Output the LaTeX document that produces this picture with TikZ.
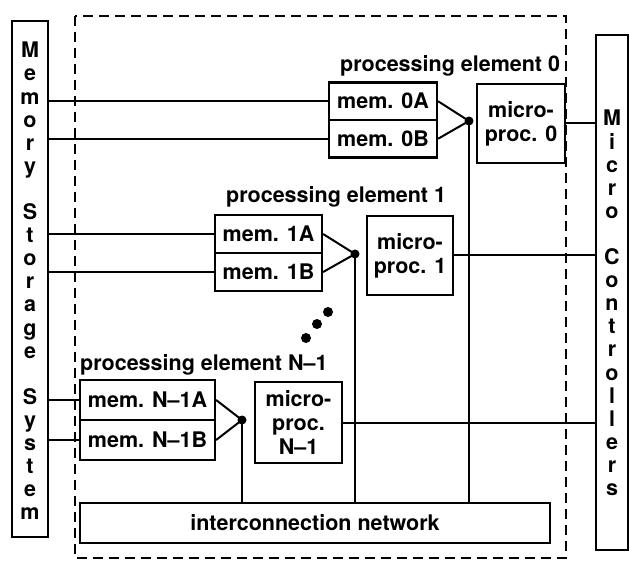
\documentclass[tikz,border=0pt]{standalone}
\usepackage{fontspec}
\setmainfont{TeX Gyre Heros}
\begin{document}
\begin{tikzpicture}[x=1pt,y=-1pt,
  every node/.style={font=\fontsize{21.5}{24}\selectfont\bfseries},
  box/.style={draw, line width=2.2pt, inner sep=0pt, align=center},
  wire/.style={line width=2pt},
  junction/.style={circle, fill, inner sep=0pt, minimum size=9pt},
  dot/.style={circle, fill, inner sep=0pt, minimum size=10pt},
  plabel/.style={anchor=base west, inner sep=0pt},
  vtext/.style={align=center, inner sep=0pt, font=\fontsize{21.5}{23.1}\selectfont\bfseries}]
\useasboundingbox (0,0) rectangle (629,561);
% dashed enclosure
\draw[line width=2.3pt, dash pattern=on 10pt off 6pt] (75,16) rectangle (566,558);
% side boxes
\node[box, minimum width=36pt, minimum height=516pt] (mss) at (30,279) {};
\node[vtext] (msst) at (30,281) {M\\e\\m\\o\\r\\y\\[23.1pt]S\\t\\o\\r\\a\\g\\e\\[23.1pt]S\\y\\s\\t\\e\\m};
\node[box, minimum width=32pt, minimum height=515pt] (mc) at (612,292.5) {};
\node[vtext] (mct) at (612,303) {M\\i\\c\\r\\o\\[23.1pt]C\\o\\n\\t\\r\\o\\l\\l\\e\\r\\s};
% PE 0
\node[plabel] (pl0) at (340,72) {processing element 0};
\node[box, minimum width=108pt, minimum height=37.5pt] (m0a) at (383,101.25) {mem. 0A};
\node[box, minimum width=108pt, minimum height=37.5pt] (m0b) at (383,138.75) {mem. 0B};
\node[box, minimum width=88pt, minimum height=79pt] (mp0) at (521,123.5) {micro-\\proc. 0};
\node[junction] (d0) at (469,121) {};
% PE 1
\node[plabel] (pl1) at (226,203) {processing element 1};
\node[box, minimum width=107pt, minimum height=38pt] (m1a) at (268.5,234) {mem. 1A};
\node[box, minimum width=107pt, minimum height=38pt] (m1b) at (268.5,272) {mem. 1B};
\node[box, minimum width=86pt, minimum height=79pt] (mp1) at (410,255.5) {micro-\\proc. 1};
\node[junction] (d1) at (355,254) {};
% ellipsis dots
\node[dot] (e1) at (328,312) {};
\node[dot] (e2) at (317,324) {};
\node[dot] (e3) at (306,338) {};
% PE N-1
\node[plabel] (pln) at (80,370) {processing element N–1};
\node[box, minimum width=135pt, minimum height=40pt] (mna) at (147.5,400) {mem. N–1A};
\node[box, minimum width=135pt, minimum height=40pt] (mnb) at (147.5,440) {mem. N–1B};
\node[box, minimum width=87pt, minimum height=81pt] (mpn) at (298.5,422.5) {micro-\\proc.\\N–1};
\node[junction] (dn) at (242,420) {};
% network
\node[box, minimum width=470pt, minimum height=40pt] (net) at (315,523) {interconnection network};
% wires from memory storage
\foreach \m in {m0a,m0b,m1a,m1b,mna,mnb}
  \draw[wire] (mss.east |- \m.west) -- (\m.west);
% triangles
\foreach \a/\b/\d in {m0a/m0b/d0, m1a/m1b/d1, mna/mnb/dn}{
  \draw[wire] (\a.east) -- (\d.center) -- (\b.east);
}
% verticals to network
\foreach \d in {d0,d1,dn}
  \draw[wire] (\d.center) -- (\d.center |- net.north);
% micro-proc to micro controllers
\foreach \p in {mp0,mp1,mpn}
  \draw[wire] (\p.east) -- (mc.west |- \p.east);
\end{tikzpicture}
\end{document}
